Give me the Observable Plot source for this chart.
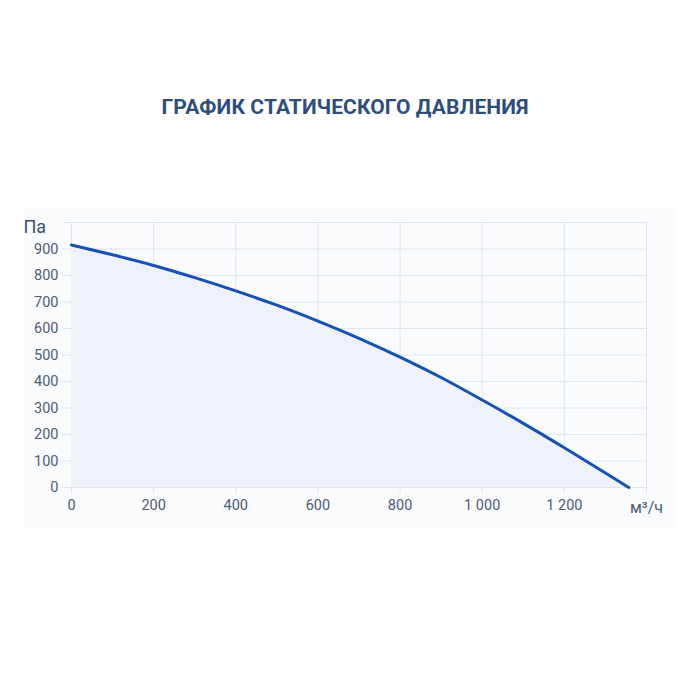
<!DOCTYPE html>
<html>
<head>
<meta charset="utf-8">
<script src="https://cdn.jsdelivr.net/npm/d3@7"></script>
<script src="https://cdn.jsdelivr.net/npm/@observablehq/plot@0.6"></script>
<style>
  html, body { margin: 0; padding: 0; background: #ffffff; }
  #wrap { position: relative; width: 700px; height: 700px; overflow: hidden; font-family: Roboto, "Noto Sans", sans-serif; }
  #title { position: absolute; left: -5px; top: 95px; width: 700px; text-align: center; font-size: 21px; font-weight: 700; color: #2d4d7c; letter-spacing: 0.1px; }
  #bg { position: absolute; left: 25px; top: 207px; width: 650px; height: 321px; background: #fafbfd; }
  #chart { position: absolute; left: 0; top: 200px; }
</style>
</head>
<body>
<div id="wrap">
  <div id="bg"></div>
  <div id="title">ГРАФИК СТАТИЧЕСКОГО ДАВЛЕНИЯ</div>
  <div id="chart"></div>
</div>
<script>
const airflow  = [0, 100, 200, 300, 400, 500, 600, 700, 800, 900, 1000, 1100, 1200, 1300, 1357];
const pressure = [915, 878, 838, 792, 742, 688, 628, 563, 492, 415, 330, 242, 150, 55, 0];
const xTicks = [0, 200, 400, 600, 800, 1000, 1200];
const yTicks = [0, 100, 200, 300, 400, 500, 600, 700, 800, 900];
const yUnit = "Па";
const xUnit = "м³/ч";
const title = "ГРАФИК СТАТИЧЕСКОГО ДАВЛЕНИЯ";
document.getElementById("title").textContent = title;

const data = airflow.map((x, i) => ({x, y: pressure[i]}));
const fmt = d => d >= 1000 ? d3.format(",")(d).replace(",", " ") : String(d);

const chart = Plot.plot({
  width: 700,
  height: 330,
  marginLeft: 71,
  marginRight: 54,
  marginTop: 22,
  marginBottom: 43,
  style: {background: "transparent", fontFamily: "Roboto, 'Noto Sans', sans-serif", fontSize: "14.5px"},
  x: {domain: [0, 1400]},
  y: {domain: [0, 1000]},
  marks: [
    Plot.ruleX([...xTicks, 1400], {x: d => d, y1: 0, y2: 1000, stroke: "#e1e4ea", strokeWidth: 1}),
    Plot.ruleX([...xTicks, 1400], {x: d => d, y1: 0, y2: -25, stroke: "#e1e4ea", strokeWidth: 1}),
    Plot.ruleY([...yTicks, 1000], {y: d => d, x1: -20, x2: 1400, stroke: "#e1e4ea", strokeWidth: 1}),
    Plot.areaY(data, {x: "x", y: "y", fill: "#eef2f9", curve: "monotone-x"}),
    Plot.line(data, {x: "x", y: "y", stroke: "#1750b6", strokeWidth: 3, curve: "monotone-x"}),
    Plot.axisX(xTicks, {tickSize: 0, tickPadding: 12, tickFormat: fmt, fill: "#4d5d75", label: null}),
    Plot.axisY(yTicks, {tickSize: 0, tickPadding: 13, fill: "#4d5d75", label: null}),
    Plot.text([yUnit], {frameAnchor: "top-left", dx: -48, dy: -2, text: d => d, fill: "#3f4f68", fontSize: 18, textAnchor: "start"}),
    Plot.text([xUnit], {frameAnchor: "bottom-right", dx: 0, dy: 25, text: d => d, fill: "#4d5d75", fontSize: 16, textAnchor: "middle"})
  ]
});
document.getElementById("chart").appendChild(chart);
</script>
</body>
</html>
